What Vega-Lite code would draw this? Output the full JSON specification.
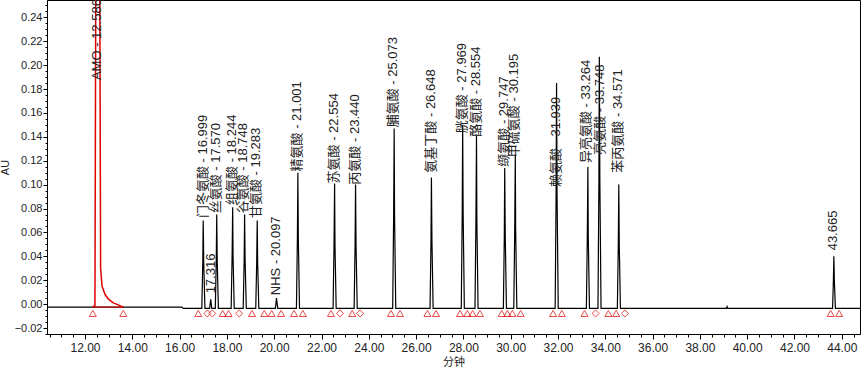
{
  "$schema": "https://vega.github.io/schema/vega-lite/v6.json",
  "width": 813,
  "height": 334,
  "autosize": {"type": "none"},
  "padding": {"left": 47, "top": 0, "right": 4, "bottom": 34},
  "background": "white",
  "config": {
    "view": {"stroke": "#000", "strokeWidth": 1},
    "axis": {
      "domainColor": "#000",
      "tickColor": "#000",
      "labelColor": "#222",
      "titleColor": "#222",
      "labelFont": "Liberation Sans",
      "titleFont": "Liberation Sans, Noto Sans CJK SC",
      "labelFontSize": 11,
      "titleFontSize": 11,
      "titleFontWeight": "normal",
      "labelOverlap": false,
      "labelFlush": false,
      "grid": false
    }
  },
  "datasets": {
    "trace": [
      {"t": 10.39, "au": -0.0025}, {"t": 12.33, "au": -0.0025},
      {"t": 13.62, "au": -0.0025}, {"t": 16.1, "au": -0.0025}, {"t": 16.15, "au": -0.0035},
      {"t": 16.94, "au": -0.0035}, {"t": 16.98, "au": 0.035}, {"t": 16.999, "au": 0.070}, {"t": 17.02, "au": 0.035}, {"t": 17.07, "au": -0.0035},
      {"t": 17.27, "au": -0.0035}, {"t": 17.316, "au": 0.004}, {"t": 17.36, "au": -0.0035},
      {"t": 17.51, "au": -0.0035}, {"t": 17.55, "au": 0.037}, {"t": 17.570, "au": 0.075}, {"t": 17.59, "au": 0.037}, {"t": 17.64, "au": -0.0035},
      {"t": 18.18, "au": -0.0035}, {"t": 18.22, "au": 0.040}, {"t": 18.244, "au": 0.081}, {"t": 18.26, "au": 0.040}, {"t": 18.31, "au": -0.0035},
      {"t": 18.69, "au": -0.0035}, {"t": 18.73, "au": 0.037}, {"t": 18.748, "au": 0.075}, {"t": 18.77, "au": 0.037}, {"t": 18.82, "au": -0.0035},
      {"t": 19.22, "au": -0.0035}, {"t": 19.26, "au": 0.035}, {"t": 19.283, "au": 0.070}, {"t": 19.30, "au": 0.035}, {"t": 19.35, "au": -0.0035},
      {"t": 20.05, "au": -0.0035}, {"t": 20.097, "au": 0.005}, {"t": 20.15, "au": -0.0035},
      {"t": 20.94, "au": -0.0035}, {"t": 20.98, "au": 0.055}, {"t": 21.001, "au": 0.110}, {"t": 21.02, "au": 0.055}, {"t": 21.07, "au": -0.0035},
      {"t": 22.49, "au": -0.0035}, {"t": 22.53, "au": 0.050}, {"t": 22.554, "au": 0.101}, {"t": 22.57, "au": 0.050}, {"t": 22.62, "au": -0.0035},
      {"t": 23.38, "au": -0.0035}, {"t": 23.42, "au": 0.050}, {"t": 23.440, "au": 0.100}, {"t": 23.46, "au": 0.050}, {"t": 23.51, "au": -0.0035},
      {"t": 25.01, "au": -0.0035}, {"t": 25.05, "au": 0.073}, {"t": 25.073, "au": 0.147}, {"t": 25.09, "au": 0.073}, {"t": 25.14, "au": -0.0035},
      {"t": 26.59, "au": -0.0035}, {"t": 26.63, "au": 0.053}, {"t": 26.648, "au": 0.106}, {"t": 26.67, "au": 0.053}, {"t": 26.72, "au": -0.0035},
      {"t": 27.91, "au": -0.0035}, {"t": 27.95, "au": 0.075}, {"t": 27.969, "au": 0.150}, {"t": 27.99, "au": 0.075}, {"t": 28.04, "au": -0.0035},
      {"t": 28.49, "au": -0.0035}, {"t": 28.53, "au": 0.070}, {"t": 28.554, "au": 0.141}, {"t": 28.57, "au": 0.070}, {"t": 28.62, "au": -0.0035},
      {"t": 29.69, "au": -0.0035}, {"t": 29.73, "au": 0.057}, {"t": 29.747, "au": 0.114}, {"t": 29.77, "au": 0.057}, {"t": 29.82, "au": -0.0035},
      {"t": 30.13, "au": -0.0035}, {"t": 30.17, "au": 0.062}, {"t": 30.195, "au": 0.125}, {"t": 30.21, "au": 0.062}, {"t": 30.26, "au": -0.0035},
      {"t": 31.88, "au": -0.0035}, {"t": 31.92, "au": 0.092}, {"t": 31.939, "au": 0.185}, {"t": 31.96, "au": 0.092}, {"t": 32.01, "au": -0.0035},
      {"t": 33.20, "au": -0.0035}, {"t": 33.24, "au": 0.057}, {"t": 33.264, "au": 0.115}, {"t": 33.28, "au": 0.057}, {"t": 33.33, "au": -0.0035},
      {"t": 33.69, "au": -0.0035}, {"t": 33.73, "au": 0.103}, {"t": 33.748, "au": 0.207}, {"t": 33.77, "au": 0.103}, {"t": 33.82, "au": -0.0035},
      {"t": 34.51, "au": -0.0035}, {"t": 34.55, "au": 0.050}, {"t": 34.571, "au": 0.100}, {"t": 34.59, "au": 0.050}, {"t": 34.64, "au": -0.0035},
      {"t": 39.12, "au": -0.0035}, {"t": 39.15, "au": -0.002}, {"t": 39.18, "au": -0.0035},
      {"t": 43.61, "au": -0.0035}, {"t": 43.645, "au": 0.020}, {"t": 43.665, "au": 0.040}, {"t": 43.685, "au": 0.020}, {"t": 43.73, "au": -0.0035},
      {"t": 44.77, "au": -0.0035}
    ],
    "amo": [
      {"t": 12.33, "au": -0.0025}, {"t": 12.42, "au": -0.001}, {"t": 12.46, "au": 0.3},
      {"t": 12.62, "au": 0.3}, {"t": 12.66, "au": 0.03}, {"t": 12.72, "au": 0.015},
      {"t": 12.85, "au": 0.008}, {"t": 13.0, "au": 0.004}, {"t": 13.2, "au": 0.001},
      {"t": 13.45, "au": -0.001}, {"t": 13.62, "au": -0.0025}
    ],
    "amobase": [
      {"t": 12.33, "au": -0.0025}, {"t": 13.62, "au": -0.0025}
    ],
    "markers": [
      {"t": 12.33, "kind": "triangle-up"}, {"t": 13.62, "kind": "triangle-up"},
      {"t": 16.79, "kind": "triangle-up"}, {"t": 17.17, "kind": "diamond"}, {"t": 17.38, "kind": "diamond"},
      {"t": 17.82, "kind": "triangle-up"}, {"t": 18.07, "kind": "triangle-up"}, {"t": 18.52, "kind": "diamond"},
      {"t": 19.06, "kind": "triangle-up"}, {"t": 19.58, "kind": "triangle-up"}, {"t": 19.89, "kind": "triangle-up"},
      {"t": 20.29, "kind": "triangle-up"}, {"t": 20.84, "kind": "triangle-up"}, {"t": 21.21, "kind": "triangle-up"},
      {"t": 22.40, "kind": "triangle-up"}, {"t": 22.78, "kind": "diamond"}, {"t": 23.30, "kind": "triangle-up"},
      {"t": 23.63, "kind": "diamond"}, {"t": 24.94, "kind": "triangle-up"}, {"t": 25.32, "kind": "triangle-up"},
      {"t": 26.48, "kind": "triangle-up"}, {"t": 26.84, "kind": "triangle-up"}, {"t": 27.86, "kind": "triangle-up"},
      {"t": 28.17, "kind": "triangle-up"}, {"t": 28.39, "kind": "triangle-up"}, {"t": 28.70, "kind": "triangle-up"},
      {"t": 29.62, "kind": "triangle-up"}, {"t": 29.86, "kind": "triangle-up"}, {"t": 30.07, "kind": "triangle-up"},
      {"t": 30.42, "kind": "triangle-up"}, {"t": 31.79, "kind": "triangle-up"}, {"t": 32.16, "kind": "triangle-up"},
      {"t": 33.12, "kind": "triangle-up"}, {"t": 33.59, "kind": "diamond"}, {"t": 34.13, "kind": "triangle-up"},
      {"t": 34.46, "kind": "triangle-up"}, {"t": 34.83, "kind": "diamond"}, {"t": 43.53, "kind": "triangle-up"},
      {"t": 43.89, "kind": "triangle-up"}
    ],
    "labels": [
      {"t": 12.5, "au": 0.1875, "label": "AMO - 12.586"},
      {"t": 16.97, "au": 0.072, "label": "门冬氨酸 - 16.999"},
      {"t": 17.32, "au": 0.009, "label": "17.316"},
      {"t": 17.52, "au": 0.076, "label": "丝氨酸 - 17.570"},
      {"t": 18.22, "au": 0.083, "label": "组氨酸 - 18.244"},
      {"t": 18.70, "au": 0.076, "label": "谷氨酸 - 18.748"},
      {"t": 19.25, "au": 0.072, "label": "甘氨酸 - 19.283"},
      {"t": 20.08, "au": 0.0075, "label": "NHS - 20.097"},
      {"t": 20.98, "au": 0.111, "label": "精氨酸 - 21.001"},
      {"t": 22.52, "au": 0.101, "label": "苏氨酸 - 22.554"},
      {"t": 23.42, "au": 0.100, "label": "丙氨酸 - 23.440"},
      {"t": 25.04, "au": 0.148, "label": "脯氨酸 - 25.073"},
      {"t": 26.62, "au": 0.110, "label": "氨基丁酸 - 26.648"},
      {"t": 27.92, "au": 0.143, "label": "胱氨酸 - 27.969"},
      {"t": 28.52, "au": 0.140, "label": "酪氨酸 - 28.554"},
      {"t": 29.70, "au": 0.115, "label": "缬氨酸 - 29.747"},
      {"t": 30.16, "au": 0.123, "label": "甲硫氨酸 - 30.195"},
      {"t": 31.92, "au": 0.098, "label": "赖氨酸 - 31.939"},
      {"t": 33.20, "au": 0.118, "label": "异亮氨酸 - 33.264"},
      {"t": 33.78, "au": 0.125, "label": "亮氨酸 - 33.748"},
      {"t": 34.55, "au": 0.110, "label": "苯丙氨酸 - 34.571"},
      {"t": 43.64, "au": 0.045, "label": "43.665"}
    ]
  },
  "encoding": {
    "x": {"field": "t", "type": "quantitative",
      "scale": {"domain": [10.393, 44.77], "nice": false, "zero": false},
      "axis": {"title": "分钟",
        "values": [10.5, 11, 11.5, 12, 12.5, 13, 13.5, 14, 14.5, 15, 15.5, 16, 16.5, 17, 17.5, 18, 18.5, 19, 19.5, 20, 20.5, 21, 21.5, 22, 22.5, 23, 23.5, 24, 24.5, 25, 25.5, 26, 26.5, 27, 27.5, 28, 28.5, 29, 29.5, 30, 30.5, 31, 31.5, 32, 32.5, 33, 33.5, 34, 34.5, 35, 35.5, 36, 36.5, 37, 37.5, 38, 38.5, 39, 39.5, 40, 40.5, 41, 41.5, 42, 42.5, 43, 43.5, 44, 44.5],
        "labelExpr": "datum.value % 2 == 0 ? format(datum.value, '.2f') : ''",
        "tickSize": {"condition": {"test": "datum.value % 2 == 0", "value": 5}, "value": 3},
        "labelPadding": 3, "titlePadding": 3, "labelFontSize": 12}}
  },
  "layer": [
    {
      "encoding": {
        "y": {"field": "au", "type": "quantitative",
          "scale": {"domain": [-0.025, 0.2545], "nice": false, "zero": false},
          "axis": {"title": "AU",
            "values": [-0.025, -0.02, -0.015, -0.01, -0.005, 0, 0.005, 0.01, 0.015, 0.02, 0.025, 0.03, 0.035, 0.04, 0.045, 0.05, 0.055, 0.06, 0.065, 0.07, 0.075, 0.08, 0.085, 0.09, 0.095, 0.1, 0.105, 0.11, 0.115, 0.12, 0.125, 0.13, 0.135, 0.14, 0.145, 0.15, 0.155, 0.16, 0.165, 0.17, 0.175, 0.18, 0.185, 0.19, 0.195, 0.2, 0.205, 0.21, 0.215, 0.22, 0.225, 0.23, 0.235, 0.24, 0.245, 0.25],
            "labelExpr": "abs(round(datum.value * 1000)) % 20 == 0 ? format(datum.value, '.2f') : ''",
            "tickSize": {"condition": {"test": "abs(round(datum.value * 1000)) % 20 == 0", "value": 4}, "value": 2},
            "labelPadding": 1, "titlePadding": 4}}
      },
      "layer": [
        {
          "data": {"name": "trace"},
          "mark": {"type": "line", "color": "#000", "strokeWidth": 1.2, "clip": true},
          "encoding": {"order": {"field": "t", "type": "quantitative"}}
        },
        {
          "data": {"name": "amobase"},
          "mark": {"type": "line", "color": "#e00000", "strokeWidth": 1, "clip": true},
          "encoding": {}
        },
        {
          "data": {"name": "amo"},
          "mark": {"type": "line", "color": "#e00000", "strokeWidth": 1.5, "clip": true},
          "encoding": {"order": {"field": "t", "type": "quantitative"}}
        },
        {
          "data": {"name": "labels"},
          "mark": {"type": "text", "angle": 270, "align": "left", "baseline": "middle", "font": "Liberation Sans, Noto Sans CJK SC", "fontSize": 13, "color": "#222"},
          "encoding": {"text": {"field": "label", "type": "nominal"}}
        }
      ]
    },
    {
      "data": {"name": "markers"},
      "mark": {"type": "point", "filled": false, "color": "#e00000", "strokeWidth": 1, "size": 50, "clip": true},
      "encoding": {
        "y": {"datum": -0.0078, "type": "quantitative",
          "scale": {"domain": [-0.025, 0.2545], "nice": false, "zero": false},
          "axis": {"title": "AU",
            "values": [-0.025, -0.02, -0.015, -0.01, -0.005, 0, 0.005, 0.01, 0.015, 0.02, 0.025, 0.03, 0.035, 0.04, 0.045, 0.05, 0.055, 0.06, 0.065, 0.07, 0.075, 0.08, 0.085, 0.09, 0.095, 0.1, 0.105, 0.11, 0.115, 0.12, 0.125, 0.13, 0.135, 0.14, 0.145, 0.15, 0.155, 0.16, 0.165, 0.17, 0.175, 0.18, 0.185, 0.19, 0.195, 0.2, 0.205, 0.21, 0.215, 0.22, 0.225, 0.23, 0.235, 0.24, 0.245, 0.25],
            "labelExpr": "abs(round(datum.value * 1000)) % 20 == 0 ? format(datum.value, '.2f') : ''",
            "tickSize": {"condition": {"test": "abs(round(datum.value * 1000)) % 20 == 0", "value": 4}, "value": 2},
            "labelPadding": 1, "titlePadding": 4}},
        "shape": {"field": "kind", "type": "nominal", "scale": null, "legend": null}
      }
    }
  ]
}
